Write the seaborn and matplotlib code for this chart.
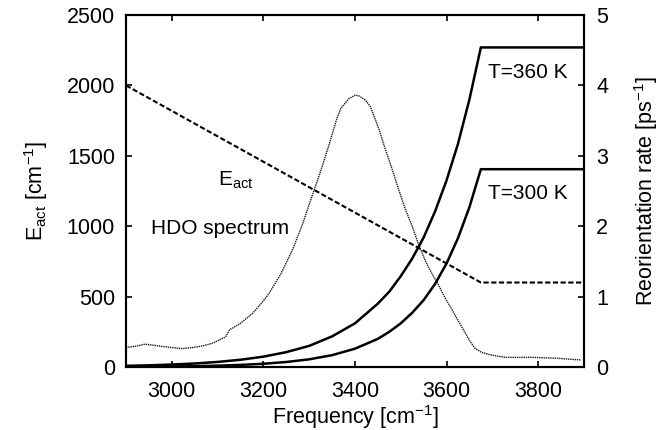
import matplotlib
matplotlib.use("Agg")
import matplotlib.pyplot as plt
import pandas as pd
import seaborn as sns

# Activation energy (left axis, cm^-1)
freq_e = [2900, 3675, 3900]
e_act = [2000, 600, 600]

# Reorientation rates (right axis, ps^-1)
freq_rate = [2900, 2950, 3000, 3050, 3100, 3150, 3200, 3250, 3300, 3350, 3400, 3450,
             3475, 3500, 3525, 3550, 3575, 3600, 3625, 3650, 3675, 3900]
rate_300 = [0.003, 0.005, 0.008, 0.013, 0.019, 0.030, 0.046, 0.071, 0.109, 0.168, 0.26, 0.40,
            0.50, 0.62, 0.77, 0.95, 1.18, 1.47, 1.83, 2.27, 2.81, 2.81]
rate_360 = [0.017, 0.024, 0.035, 0.050, 0.072, 0.103, 0.147, 0.211, 0.30, 0.435, 0.62, 0.90,
            1.07, 1.29, 1.54, 1.84, 2.21, 2.65, 3.17, 3.80, 4.54, 4.54]

# HDO spectrum (arbitrary units, drawn on left axis)
freq_spec = [2900, 2925, 2941, 2960, 2981, 3000, 3021, 3045, 3068, 3090, 3104, 3115, 3119,
             3126, 3150, 3177, 3200, 3213, 3238, 3264, 3285, 3304, 3325, 3343, 3360, 3369,
             3387, 3401, 3409, 3423, 3434, 3452, 3466, 3481, 3495, 3510, 3525, 3539, 3555,
             3572, 3583, 3597, 3612, 3627, 3641, 3652, 3662, 3676, 3691, 3710, 3728, 3760,
             3786, 3815, 3843, 3870, 3894]
spec = [138, 150, 162, 155, 145, 138, 131, 138, 150, 170, 193, 210, 221,
        264, 310, 383, 470, 526, 660, 836, 1010, 1193, 1390, 1574, 1760, 1836,
        1907, 1931, 1925, 1895, 1848, 1693, 1550, 1407, 1265, 1121, 1000, 870, 745,
        640, 580, 490, 407, 320, 241, 180, 134, 105, 90, 78, 69, 68,
        69, 65, 62, 55, 50]

sns.set_theme(style="ticks")
plt.rcParams['font.family'] = ['Liberation Sans', 'DejaVu Sans']
plt.rcParams['mathtext.default'] = 'regular'
plt.rcParams['text.color'] = 'black'
plt.rcParams['axes.labelcolor'] = 'black'
plt.rcParams['axes.edgecolor'] = 'black'
plt.rcParams['xtick.color'] = 'black'
plt.rcParams['ytick.color'] = 'black'

fig = plt.figure(figsize=(6.65, 4.30), dpi=100)
ax = fig.add_axes([0.1895, 0.1465, 0.6885, 0.8185])
ax2 = ax.twinx()

df_e = pd.DataFrame({'freq': freq_e, 'E': e_act})
df_s = pd.DataFrame({'freq': freq_spec, 'I': spec})
df_r = pd.DataFrame({'freq': freq_rate, 'r300': rate_300, 'r360': rate_360})

sns.lineplot(data=df_s, x='freq', y='I', ax=ax, color='0.1', linewidth=1.0,
             linestyle=(0, (1, 0.6)), sort=False)
sns.lineplot(data=df_e, x='freq', y='E', ax=ax, color='black', linewidth=1.5,
             linestyle=(0, (2.5, 1.2)))
sns.lineplot(data=df_r, x='freq', y='r360', ax=ax2, color='black', linewidth=1.8)
sns.lineplot(data=df_r, x='freq', y='r300', ax=ax2, color='black', linewidth=1.8)

ax.set_xlim(2900, 3900)
ax.set_ylim(0, 2500)
ax2.set_ylim(0, 5)
ax.set_xticks([3000, 3200, 3400, 3600, 3800])
ax.set_yticks([0, 500, 1000, 1500, 2000, 2500])
ax2.set_yticks([0, 1, 2, 3, 4, 5])

fs = 15.5
tfs = 15
ax.tick_params(axis='x', direction='in', top=True, length=4.5, width=1.2, labelsize=fs, pad=10)
ax.tick_params(axis='y', direction='in', length=4.5, width=1.2, labelsize=fs, pad=8)
ax2.tick_params(axis='y', direction='in', length=4.5, width=1.2, labelsize=fs, pad=9)

ax.set_xlabel('Frequency [cm$^{-1}$]', fontsize=fs, labelpad=1)
ax.set_ylabel('E$_{act}$ [cm$^{-1}$]', fontsize=fs, labelpad=12)
ax2.set_ylabel('Reorientation rate [ps$^{-1}$]', fontsize=fs, labelpad=17)

ax.text(3100, 1290, 'E$_{act}$', fontsize=tfs, ha='left', va='baseline')
ax.text(2955, 945, 'HDO spectrum', fontsize=tfs, ha='left', va='baseline')
ax.text(3865, 2050, 'T=360 K', fontsize=tfs, ha='right', va='baseline')
ax.text(3865, 1195, 'T=300 K', fontsize=tfs, ha='right', va='baseline')

for a in (ax, ax2):
    for s in a.spines.values():
        s.set_visible(True)
        s.set_linewidth(1.5)
        s.set_color('black')

fig.savefig('out.png', dpi=100)
